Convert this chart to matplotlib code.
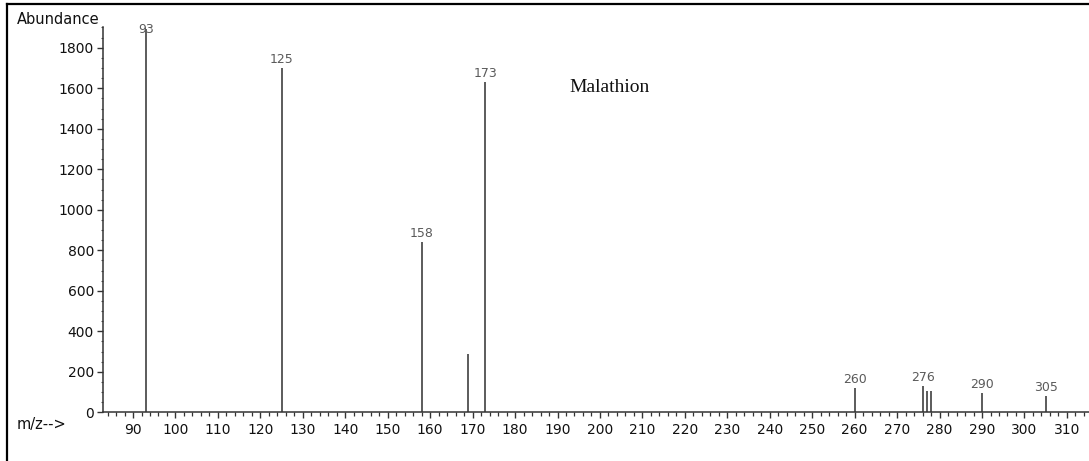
import matplotlib
matplotlib.use("Agg")
import matplotlib.pyplot as plt
from matplotlib.ticker import MultipleLocator
from matplotlib.lines import Line2D

# Data
mz = [93, 125, 158, 169, 173, 260, 276, 277, 278, 290, 305]
abundance = [1895, 1700, 840, 287, 1632, 119, 129, 104, 104, 94, 79]
labeled = [93, 125, 158, 173, 260, 276, 290, 305]
y_ticks = [0, 200, 400, 600, 800, 1000, 1200, 1400, 1600, 1800]
x_ticks = list(range(90, 311, 10))

W, H = 1089, 461
fig = plt.figure(figsize=(W / 100, H / 100), dpi=100)
fig.patch.set_facecolor("white")

ax_left, ax_right = 103 / W, 1.0
ax_bottom, ax_top = (H - 412.3) / H, (H - 27.5) / H
ax = fig.add_axes([ax_left, ax_bottom, ax_right - ax_left, ax_top - ax_bottom])

line_col = "#404040"
ax.vlines(mz, 0, abundance, colors=line_col, linewidth=1.2)

label_col = "#5a5a5a"
for x, v in zip(mz, abundance):
    if x in labeled:
        ax.annotate(str(x), (x, min(v, 1850)), xytext=(0, 1.5),
                    textcoords="offset points", ha="center", va="bottom",
                    fontsize=9, color=label_col, family="DejaVu Sans",
                    annotation_clip=False)

ax.set_xlim(82.93, 315.2)
ax.set_ylim(0, 1900)

for s in ["top", "right"]:
    ax.spines[s].set_visible(False)
for s in ["left", "bottom"]:
    ax.spines[s].set_color("#333333")
    ax.spines[s].set_linewidth(1.1)

ax.set_xticks(x_ticks)
ax.set_yticks(y_ticks)
ax.xaxis.set_minor_locator(MultipleLocator(2))
ax.yaxis.set_minor_locator(MultipleLocator(50))
ax.tick_params(axis="both", which="major", direction="out", length=4.5,
               width=1.0, color="#333333", labelsize=10, labelcolor="#111111")
ax.tick_params(axis="x", which="minor", direction="out", length=2.8,
               width=0.9, color="#333333")
ax.tick_params(axis="y", which="minor", direction="out", length=1.8,
               width=0.8, color="#555555")
ax.tick_params(axis="x", which="major", pad=3)
ax.tick_params(axis="y", which="major", pad=2)
ax.set_facecolor("none")

ax.text(192.7, 1602, "Malathion", family="Liberation Serif", fontsize=14,
        ha="left", va="center", color="#111111")

fig.text(17 / W, 1 - 19 / H, "Abundance", fontsize=10.5, ha="left", va="center",
         color="#111111", family="DejaVu Sans")
fig.text(17 / W, 1 - 424 / H, "m/z-->", fontsize=10.5, ha="left", va="center",
         color="#111111", family="DejaVu Sans")

# frame lines of the scanned page
fig.add_artist(Line2D([7 / W, 1.0], [1 - 4.5 / H, 1 - 4.5 / H],
                      transform=fig.transFigure, color="black", linewidth=1.6))
fig.add_artist(Line2D([7 / W, 7 / W], [0, 1 - 4.5 / H],
                      transform=fig.transFigure, color="black", linewidth=1.6))

fig.savefig("out.png", dpi=100, facecolor="white")
